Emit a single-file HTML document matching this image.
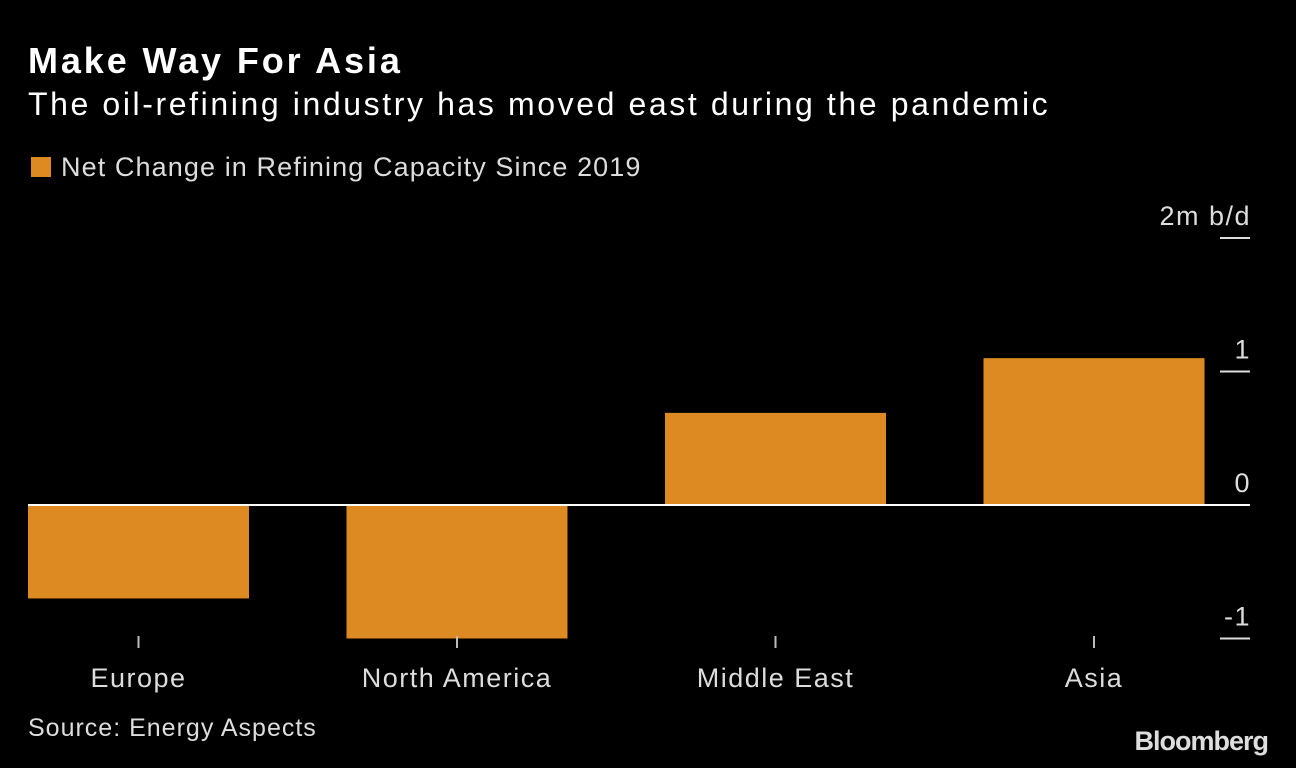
<!DOCTYPE html>
<html><head><meta charset="utf-8"><style>
body{margin:0;background:#000;width:1296px;height:768px;overflow:hidden;font-family:"Liberation Sans",sans-serif;color:#fff}
.t{position:absolute;white-space:nowrap}
</style></head><body>
<div class="t" style="left:28px;top:40px;font-size:36px;font-weight:bold;letter-spacing:2.9px">Make Way For Asia</div>
<div class="t" style="left:28px;top:86px;font-size:32px;letter-spacing:2.6px">The oil-refining industry has moved east during the pandemic</div>
<div class="t" style="left:31px;top:152px;font-size:27px;color:#ddd;letter-spacing:1.1px"><span style="display:inline-block;width:20px;height:20px;background:#dd8a23;margin-right:10px;vertical-align:-1px"></span>Net Change in Refining Capacity Since 2019</div>
<svg id="c" width="1296" height="768" style="position:absolute;left:0;top:0"></svg>
<div class="t" style="left:28px;top:714px;font-size:25px;color:#ddd;letter-spacing:1px">Source: Energy Aspects</div>
<div class="t" style="right:28px;top:726px;font-size:27px;font-weight:bold;color:#ddd;letter-spacing:-1px">Bloomberg</div>
<script>
const categories=["Europe","North America","Middle East","Asia"];
const values=[-0.70,-1.0,0.69,1.10];
const ticks=[2,1,0,-1];
const tickLabels=["2m b/d","1","0","-1"];
const svg=document.getElementById('c');
const NS="http://www.w3.org/2000/svg";
const y=v=>505-v*133.5;
const x0=28,band=318.5,bw=221;
function mk(t,a){const e=document.createElementNS(NS,t);for(const k in a)e.setAttribute(k,a[k]);svg.appendChild(e);return e;}
categories.forEach((c,i)=>{
  const v=values[i];
  const r=mk('rect',{x:x0+i*band,y:Math.min(y(v),y(0)),width:bw,height:Math.abs(y(v)-y(0)),fill:'#dd8a23'});
  
  
  const cx=x0+i*band+bw/2;
  const tk=mk('line',{x1:cx,x2:cx,y1:636,y2:648,stroke:'#bbb','stroke-width':2});
  
  
  const t=mk('text',{x:cx,y:687,'text-anchor':'middle',fill:'#ddd','font-size':27,'letter-spacing':1.5,'font-family':'Liberation Sans, sans-serif'});
  t.textContent=c;
  
  
});
ticks.forEach((v,i)=>{
  if(v!==0){const l=mk('line',{x1:1220,x2:1250,y1:y(v),y2:y(v),stroke:'#ddd','stroke-width':2});
  
  }
  const t=mk('text',{x:1251,y:y(v)-13,'text-anchor':'end',fill:'#ddd','font-size':27,'letter-spacing':1.5,'font-family':'Liberation Sans, sans-serif'});
  t.textContent=tickLabels[i];
  
  
});
const z=mk('line',{x1:28,x2:1250,y1:y(0),y2:y(0),stroke:'#fff','stroke-width':2});


</script>
</body></html>
